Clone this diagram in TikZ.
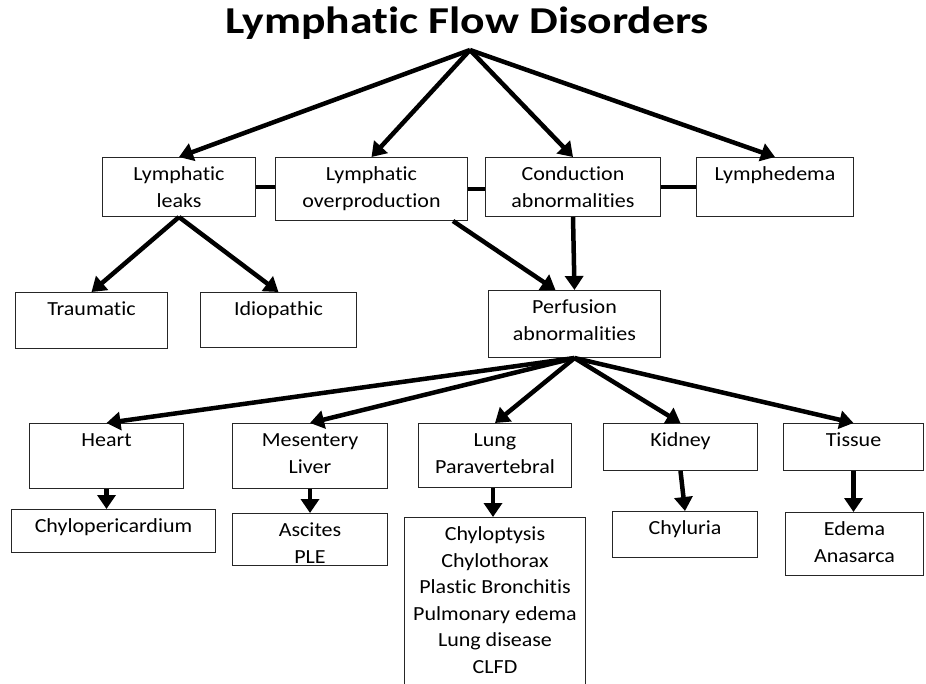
\documentclass[tikz,border=0pt]{standalone}
\usepackage{fontspec}
\setmainfont{Carlito}[FakeStretch=1.1, Ligatures=NoCommon]
\newfontfamily\titlefont{Carlito}[FakeStretch=1.2, Ligatures=NoCommon]
\usetikzlibrary{arrows.meta}

\newcommand{\cell}[3]{\parbox[t][#2pt][t]{#1pt}{\centering\rule{0pt}{23pt}#3}}

\tikzset{
  box/.style={draw=black!85, line width=1pt, inner sep=0pt, anchor=north west,
    font=\fontsize{20}{26.5}\selectfont},
  flow/.style={line width=4.5pt, -{Triangle[length=14pt,width=18pt]}},
  link/.style={line width=4.5pt}
}

\begin{document}
\begin{tikzpicture}[x=1pt, y=-1pt]
  \useasboundingbox (0,0) rectangle (926,683);

  \node[anchor=base, font=\titlefont\bfseries\fontsize{38}{40}\selectfont] (title) at (467,33)
    {Lymphatic Flow Disorders};
  \coordinate (fan) at (470,50);

  % first level
  \node[box] (leaks) at (102,157) {\cell{153}{59}{Lymphatic\\leaks}};
  \node[box] (over) at (275,157) {\cell{192}{63}{Lymphatic\\overproduction}};
  \node[box] (cond) at (485,157) {\cell{175}{59}{Conduction\\abnormalities}};
  \node[box] (lymph) at (696,157) {\cell{157}{59}{Lymphedema}};

  \draw[link] (leaks.east) -- (leaks.east -| over.west);
  \draw[link] (over.east) -- (over.east -| cond.west);
  \draw[link] (cond.east) -- (cond.east -| lymph.west);

  \draw[flow] (fan) -- (leaks.north);
  \draw[flow] (fan) -- (over.north);
  \draw[flow] (fan) -- (cond.north);
  \draw[flow] (fan) -- (lymph.north);

  % second level
  \node[box] (trauma) at (15,292) {\cell{152}{56}{Traumatic}};
  \node[box] (idio) at (200,292) {\cell{156}{55}{Idiopathic}};
  \node[box] (perf) at (488,290) {\cell{172}{67}{Perfusion\\abnormalities}};

  \draw[flow] (leaks.south) -- (trauma.north);
  \draw[flow] (leaks.south) -- (idio.north);
  \draw[flow] ([xshift=-15pt]over.south east) -- ([xshift=-19pt]perf.north);
  \draw[flow] (cond.south) -- (perf.north);

  % organs
  \node[box] (heart) at (29,423) {\cell{154}{65}{Heart}};
  \node[box] (mes) at (232,423) {\cell{155}{65}{Mesentery\\Liver}};
  \node[box] (lung) at (418,423) {\cell{153}{64}{Lung\\Paravertebral}};
  \node[box] (kidney) at (603,423) {\cell{154}{47}{Kidney}};
  \node[box] (tissue) at (783,423) {\cell{140}{47}{Tissue}};

  \foreach \n in {heart,mes,lung,kidney,tissue}
    \draw[flow] (perf.south) -- (\n.north);

  % findings
  \node[box] (peri) at (11,509) {\cell{204}{43}{Chylopericardium}};
  \node[box] (asc) at (232,513) {\cell{155}{52}{Ascites\\PLE}};
  \node[box] (pulm) at (404,517) {\cell{181}{180}{Chyloptysis\\Chylothorax\\Plastic Bronchitis\\Pulmonary edema\\Lung disease\\CLFD}};
  \node[box] (uria) at (612,511) {\cell{145}{46}{Chyluria}};
  \node[box] (edema) at (785,512) {\cell{138}{63}{Edema\\Anasarca}};

  \draw[flow] (heart.south) -- (heart.south |- peri.north);
  \draw[flow] (mes.south) -- (asc.north);
  \draw[flow] ([xshift=-2pt]lung.south) -- ([xshift=-2pt]lung.south |- pulm.north);
  \draw[flow] (kidney.south) -- (uria.north);
  \draw[flow] (tissue.south) -- (tissue.south |- edema.north);
\end{tikzpicture}
\end{document}
